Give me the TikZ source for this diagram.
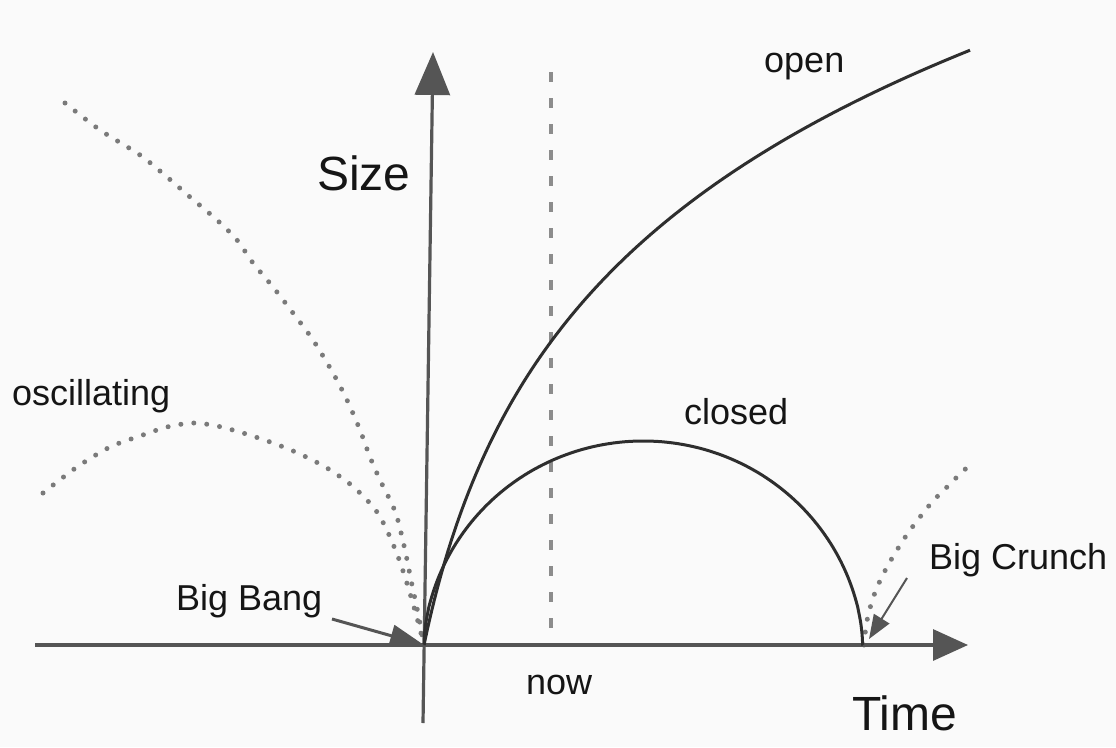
\documentclass[tikz,border=0pt]{standalone}
\usepackage{fontspec}
\setmainfont{Liberation Sans}
\usetikzlibrary{arrows.meta}
\definecolor{axiscol}{HTML}{555555}
\definecolor{curvecol}{HTML}{2E2E2E}
\definecolor{dotcol}{HTML}{7A7A7A}
\definecolor{dashcol}{HTML}{8C8C8C}
\definecolor{txtcol}{HTML}{151515}
\definecolor{bgcol}{HTML}{FAFAFA}
\begin{document}
\begin{tikzpicture}[x=1pt,y=-1pt,
  axis/.style={draw=axiscol, line width=3.2pt},
  curve/.style={draw=curvecol, line width=3pt},
  dotcurve/.style={draw=dotcol, line width=5pt, line cap=round, dash pattern=on 0pt off 13pt},
  nowline/.style={draw=dashcol, line width=4pt, dash pattern=on 10pt off 16pt},
  lbl/.style={text=txtcol, inner sep=0pt, font=\fontsize{36}{40}\selectfont, anchor=base west},
  biglbl/.style={text=txtcol, inner sep=0pt, font=\fontsize{48}{52}\selectfont, anchor=base west},
  pointer/.style={draw=axiscol, line width=3pt, -{Triangle[length=34pt,width=22pt]}},
  smallpointer/.style={draw=axiscol, line width=2pt, -{Triangle[length=24pt,width=18pt]}},
]
\fill[bgcol] (0,0) rectangle (1116,747);
\useasboundingbox (0,0) rectangle (1116,747);

% key points
\coordinate (O) at (424,645);
\coordinate (crunch) at (863,645);
\coordinate (xstart) at (35,645);
\coordinate (xend) at (968,645);
\coordinate (ystart) at (423,723);
\coordinate (yend) at (433,52);
\coordinate (nowtop) at (551,72);
\coordinate (nowbot) at (551,640);
\coordinate (bbstart) at (332,619);
\coordinate (bcstart) at (907,578);
\coordinate (bctip) at (869,639);

% now line
\draw[nowline] (nowtop) -- (nowbot);

% dotted oscillating curves
\draw[dotcurve] plot[smooth, tension=0.5] coordinates {(65,103) (100,130) (140,155) (167,177) (190,197) (217,220) (237,240) (253,263) (273,287) (293,313) (313,340) (333,373) (347,400) (360,430) (370,457) (380,480) (390,500) (397,517) (405,550) (412,585) (418,613) (424,645)};
\draw[dotcurve] plot[smooth, tension=0.5] coordinates {(43,493) (77,467) (110,447) (140,436) (167,427) (193,423) (217,426) (243,433) (273,443) (300,454) (327,468) (350,484) (367,500) (379,515) (390,537) (400,562) (409,590) (417,618) (424,645)};
\draw[dotcurve] plot[smooth, tension=0.5] coordinates {(864,645) (866,626) (869,612) (873,598) (879,583) (887,567) (897,550) (908,533) (920,517) (933,501) (947,487) (960,474) (972,463)};

% axes
\draw[axis, -{Triangle[length=35pt,width=31pt]}] (xstart) -- (xend);
\draw[axis, -{Triangle[length=43pt,width=35pt]}] (ystart) -- (yend);

% open universe
\draw[curve] plot[domain=0:546, samples=160, variable=\u] ({424+\u},{645-240*ln(1+\u/50)});
% closed universe (cycloid-like)
\draw[curve] (O) -- plot[domain=0.05:6.233, samples=160, variable=\t] ({424+69.8*(\t-sin(\t r))},{645-204*pow((1-cos(\t r))/2,0.85)}) -- (crunch);

% pointers
\draw[pointer] (bbstart) -- (O);
\draw[smallpointer] (bcstart) -- (bctip);

% labels
\node[biglbl] (size) at (317,190) {Size};
\node[biglbl] (time) at (852,730) {Time};
\node[lbl] (now) at (526,694) {now};
\node[lbl] (open) at (764,72) {open};
\node[lbl] (closed) at (684,424) {closed};
\node[lbl] (osc) at (12,405) {oscillating};
\node[lbl] (bigbang) at (176,610) {Big Bang};
\node[lbl] (bigcrunch) at (929,569) {Big Crunch};
\end{tikzpicture}
\end{document}
